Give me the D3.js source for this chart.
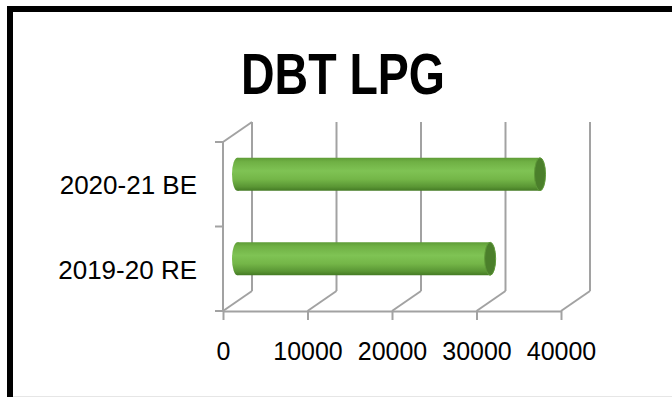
<!DOCTYPE html>
<html>
<head>
<meta charset="utf-8">
<script src="https://cdn.jsdelivr.net/npm/d3@7"></script>
<style>
    body { margin: 0; background: #fff; }
    svg { display: block; font-family: "Liberation Sans", Arial, sans-serif; }
</style>
</head>
<body>
<div id="chart"></div>
<script>
var title = "DBT LPG";
var categories = ["2020-21 BE", "2019-20 RE"];
var values = [35800, 29900];
var tickValues = [0, 10000, 20000, 30000, 40000];

var width = 672, height = 397;
var depth = { dx: 29, dy: -20 };   // offset of the back wall
var grid = "#a2a2a2";

var svg = d3.select("#chart").append("svg")
    .attr("width", width)
    .attr("height", height);

// outer frame, cut off on the right and at the bottom like the picture
svg.append("rect")
    .attr("x", 10).attr("y", 9)
    .attr("width", 720).attr("height", 430)
    .attr("fill", "none")
    .attr("stroke", "#000")
    .attr("stroke-width", 6);

svg.append("line")
    .attr("x1", 13).attr("x2", width)
    .attr("y1", 396.5).attr("y2", 396.5)
    .attr("stroke", "#e6e6e6");

// narrow bold title: Arial squeezed to the width of the original
svg.append("text")
    .attr("x", 343).attr("y", 94)
    .attr("text-anchor", "middle")
    .attr("font-family", "'Liberation Sans', Arial, sans-serif")
    .attr("font-weight", "bold")
    .attr("font-size", 58)
    .attr("textLength", 204)
    .attr("lengthAdjust", "spacingAndGlyphs")
    .text(title);

var x = d3.scaleLinear().domain([0, 40000]).range([223, 561]);
var y = d3.scaleBand().domain(categories).range([142, 311]).paddingInner(0).paddingOuter(0);

var x0 = x.range()[0], yTop = y.range()[0], yBot = y.range()[1];

// defs: cylinder shading
var defs = svg.append("defs");
var grad = defs.append("linearGradient")
    .attr("id", "cyl")
    .attr("x1", 0).attr("y1", 0).attr("x2", 0).attr("y2", 1);
[["0%", "#5e9c36"], ["12%", "#6fb044"], ["40%", "#7fc354"], ["65%", "#74b648"], ["88%", "#5a9634"], ["100%", "#447a24"]]
    .forEach(function (s) {
        grad.append("stop").attr("offset", s[0]).attr("stop-color", s[1]);
    });

var walls = svg.append("g")
    .attr("stroke", grid)
    .attr("stroke-width", 2)
    .attr("fill", "none");

// back wall gridlines
walls.selectAll(".back")
    .data(tickValues)
    .enter().append("line")
    .attr("x1", function (d) { return x(d) + depth.dx; })
    .attr("x2", function (d) { return x(d) + depth.dx; })
    .attr("y1", yTop + depth.dy)
    .attr("y2", yBot + depth.dy);

// floor lines running into depth
walls.selectAll(".floor")
    .data(tickValues)
    .enter().append("line")
    .attr("x1", function (d) { return x(d); })
    .attr("x2", function (d) { return x(d) + depth.dx; })
    .attr("y1", yBot)
    .attr("y2", yBot + depth.dy);

// left wall: front edge and top edge
walls.append("line")
    .attr("x1", x0).attr("x2", x0)
    .attr("y1", yTop).attr("y2", yBot);
walls.append("line")
    .attr("x1", x0).attr("x2", x0 + depth.dx)
    .attr("y1", yTop).attr("y2", yTop + depth.dy);

// category separators on the left axis
var edges = [yTop].concat(categories.map(function (c) { return y(c) + y.bandwidth(); }));
walls.selectAll(".ltick")
    .data(edges)
    .enter().append("line")
    .attr("x1", x0 - 8).attr("x2", x0)
    .attr("y1", function (d) { return d; })
    .attr("y2", function (d) { return d; });

// bottom axis
var xAxis = d3.axisBottom(x)
    .tickValues(tickValues)
    .tickSize(9)
    .tickSizeOuter(0)
    .tickPadding(22)
    .tickFormat(d3.format("d"));

var gx = svg.append("g")
    .attr("transform", "translate(0," + yBot + ")")
    .call(xAxis);
gx.select(".domain").attr("stroke", grid).attr("stroke-width", 2);
gx.selectAll(".tick line").attr("stroke", grid).attr("stroke-width", 2);
gx.selectAll(".tick text")
    .attr("fill", "#000")
    .attr("font-size", 25)
    .attr("font-family", "'Liberation Sans', Arial, sans-serif");

// category labels
svg.selectAll(".cat")
    .data(categories)
    .enter().append("text")
    .attr("x", 197)
    .attr("y", function (d) { return y(d) + y.bandwidth() / 2 + 10; })
    .attr("text-anchor", "end")
    .attr("font-size", 26)
    .attr("fill", "#000")
    .text(function (d) { return d; });

// cylinders at mid depth
var barH = 33, capRx = 5.5;
var bars = svg.selectAll(".bar")
    .data(categories)
    .enter().append("g")
    .attr("transform", function (d) {
        var cy = y(d) + y.bandwidth() / 2 + depth.dy / 2;
        return "translate(" + (depth.dx / 2) + "," + cy + ")";
    });

bars.append("ellipse")
    .attr("cx", x(0))
    .attr("cy", 0)
    .attr("rx", capRx)
    .attr("ry", barH / 2)
    .attr("fill", "url(#cyl)");

bars.append("rect")
    .attr("x", x(0))
    .attr("y", -barH / 2)
    .attr("width", function (d, i) { return x(values[i]) - x(0); })
    .attr("height", barH)
    .attr("fill", "url(#cyl)");

bars.append("ellipse")
    .attr("cx", function (d, i) { return x(values[i]); })
    .attr("cy", 0)
    .attr("rx", capRx)
    .attr("ry", barH / 2)
    .attr("fill", "#4b7f2b")
    .attr("stroke", "#5f9a39")
    .attr("stroke-width", 1);
</script>
</body>
</html>
